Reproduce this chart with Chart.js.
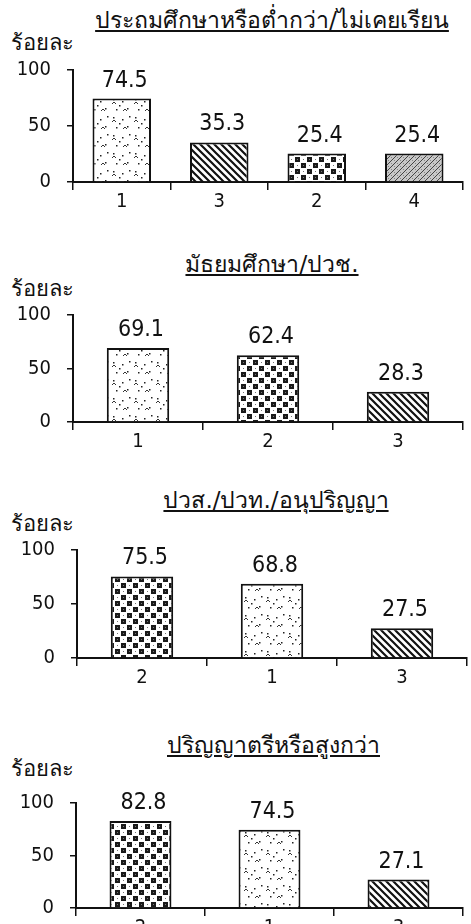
<!DOCTYPE html>
<html>
<head>
<meta charset="utf-8">
<script src="https://cdn.jsdelivr.net/npm/chart.js@4.4.1/dist/chart.umd.min.js"></script>
<style>
  html, body { margin: 0; padding: 0; background: #fff; overflow: hidden; }
  body { width: 471px; height: 924px; position: relative; font-family: Tahoma, "DejaVu Sans", "Noto Sans", sans-serif; color: #111; }
  .title { position: absolute; font-size: 23px; line-height: 26px; text-decoration: underline; white-space: nowrap; transform: translateX(-50%); }
  .unit { position: absolute; left: 11px; font-size: 22px; line-height: 26px; white-space: nowrap; }
  .box { position: absolute; left: 0; width: 471px; }
</style>
</head>
<body>
<script>
const titles = [
    'ประถมศึกษาหรือต่ำกว่า/ไม่เคยเรียน',
    'มัธยมศึกษา/ปวช.',
    'ปวส./ปวท./อนุปริญญา',
    'ปริญญาตรีหรือสูงกว่า'
];
const unitLabel = 'ร้อยละ';

const labels1 = ['1', '3', '2', '4'];
const values1 = [74.5, 35.3, 25.4, 25.4];

const labels2 = ['1', '2', '3'];
const values2 = [69.1, 62.4, 28.3];

const labels3 = ['2', '1', '3'];
const values3 = [75.5, 68.8, 27.5];

const labels4 = ['2', '1', '3'];
const values4 = [82.8, 74.5, 27.1];

const yMin = 0;
const yMax = 100;
const yStep = 50;

const numFont = '"DejaVu Sans Condensed", Tahoma, "DejaVu Sans", sans-serif';

// build a small tile and turn it into a canvas pattern
function makePattern(size, draw) {
    const c = document.createElement('canvas');
    c.width = size[0];
    c.height = size[1];
    const g = c.getContext('2d');
    g.fillStyle = '#fff';
    g.fillRect(0, 0, c.width, c.height);
    draw(g);
    return g.createPattern(c, 'repeat');
}

const patterns = {
    '1': makePattern([22, 18], g => {
        g.fillStyle = '#222';
        [[3, 3], [12, 5], [17, 12], [6, 13], [19, 2], [9, 9]].forEach(p => g.fillRect(p[0], p[1], 1.5, 1.5));
        g.strokeStyle = '#333';
        g.lineWidth = 1;
        g.beginPath();
        g.moveTo(13, 15); g.lineTo(15, 13); g.lineTo(17, 15);
        g.moveTo(2, 8); g.lineTo(4, 6); g.lineTo(6, 8);
        g.stroke();
    }),
    '2': makePattern([12, 12], g => {
        g.fillStyle = '#1a1a1a';
        g.fillRect(1, 1, 5, 5);
        g.fillRect(7, 7, 5, 5);
        g.fillStyle = '#777';
        g.fillRect(3, 3, 1, 1);
        g.fillRect(9, 9, 1, 1);
        g.fillRect(9, 3, 1, 1);
        g.fillRect(3, 9, 1, 1);
    }),
    '3': makePattern([7, 7], g => {
        g.strokeStyle = '#111';
        g.lineWidth = 2.2;
        g.beginPath();
        g.moveTo(-1, -1); g.lineTo(8, 8);
        g.moveTo(-8, -1); g.lineTo(1, 8);
        g.moveTo(6, -1); g.lineTo(15, 8);
        g.stroke();
    }),
    '4': makePattern([6, 6], g => {
        g.fillStyle = '#c8c8c8';
        g.fillRect(0, 0, 6, 6);
        g.fillStyle = '#444';
        for (let i = 0; i < 6; i++) {
            g.fillRect(5 - i, i, 1, 1);
        }
        g.fillStyle = '#888';
        g.fillRect(1, 1, 1, 1);
        g.fillRect(4, 4, 1, 1);
    })
};

// draws the value above each bar
const valueLabels = {
    id: 'valueLabels',
    afterDatasetsDraw(chart) {
        const ctx = chart.ctx;
        const meta = chart.getDatasetMeta(0);
        ctx.save();
        ctx.font = '23px ' + numFont;
        ctx.fillStyle = '#111';
        ctx.textAlign = 'center';
        ctx.textBaseline = 'alphabetic';
        meta.data.forEach((bar, i) => {
            ctx.fillText(chart.data.datasets[0].data[i].toFixed(1), bar.x + 3, bar.y - 12);
        });
        ctx.restore();
    }
};

const panels = [
    { labels: labels1, values: values1, y100: 70, y0: 182, left: 73, right: 463, bar: 0.6, unitY: 30, titleY: 7 },
    { labels: labels2, values: values2, y100: 315, y0: 422, left: 73, right: 463, bar: 0.48, unitY: 276, titleY: 251 },
    { labels: labels3, values: values3, y100: 550, y0: 658, left: 77, right: 467, bar: 0.48, unitY: 511, titleY: 487 },
    { labels: labels4, values: values4, y100: 803, y0: 908, left: 76, right: 463, bar: 0.48, unitY: 756, titleY: 732 }
];

panels.forEach((p, i) => {
    const padTop = 20;
    const axisH = 30;

    const t = document.createElement('div');
    t.className = 'title';
    t.textContent = titles[i];
    t.style.top = p.titleY + 'px';
    t.style.left = ((p.left + p.right) / 2 + 4) + 'px';
    document.body.appendChild(t);

    const u = document.createElement('div');
    u.className = 'unit';
    u.textContent = unitLabel;
    u.style.top = p.unitY + 'px';
    document.body.appendChild(u);

    const box = document.createElement('div');
    box.className = 'box';
    box.style.top = (p.y100 - padTop) + 'px';
    box.style.height = ((p.y0 - p.y100) + padTop + axisH) + 'px';
    const cv = document.createElement('canvas');
    box.appendChild(cv);
    document.body.appendChild(box);

    const ch = new Chart(cv, {
        type: 'bar',
        data: {
            labels: p.labels,
            datasets: [{
                data: p.values,
                backgroundColor: p.labels.map(l => patterns[l]),
                borderColor: '#111',
                borderWidth: 2,
                borderSkipped: 'bottom',
                barPercentage: p.bar,
                categoryPercentage: 1
            }]
        },
        options: {
            responsive: true,
            maintainAspectRatio: false,
            animation: false,
            events: [],
            layout: { padding: { top: padTop, right: 471 - p.right, left: 0, bottom: 0 } },
            plugins: {
                legend: { display: false },
                tooltip: { enabled: false }
            },
            scales: {
                x: {
                    afterFit: s => { s.height = axisH; },
                    grid: { drawOnChartArea: false, drawTicks: true, tickLength: 8, offset: true, color: '#111', lineWidth: 1.5 },
                    border: { display: true, color: '#111', width: 2 },
                    ticks: { color: '#111', font: { family: numFont, size: 20 }, padding: 0 }
                },
                y: {
                    min: yMin,
                    max: yMax,
                    afterFit: s => { s.width = p.left; },
                    grid: { drawOnChartArea: false, drawTicks: true, tickLength: 6, color: '#111', lineWidth: 1.5 },
                    border: { display: true, color: '#111', width: 2 },
                    ticks: { stepSize: yStep, color: '#111', font: { family: numFont, size: 20 }, padding: 16 }
                }
            }
        },
        plugins: [valueLabels]
    });

    // the layout adds its own room above the plot; shift the box so 100 and 0 land where they should
    const off = ch.chartArea.top;
    box.style.top = (p.y100 - off) + 'px';
    box.style.height = ((p.y0 - p.y100) + off + axisH) + 'px';
    ch.resize();
});
</script>
</body>
</html>
